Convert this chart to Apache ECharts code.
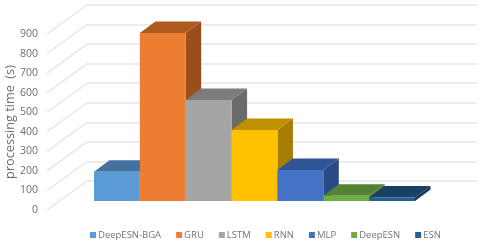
<!DOCTYPE html>
<html><head><meta charset="utf-8">
<style>html,body{margin:0;padding:0;background:#fff}#c{width:480px;height:245px}</style>
<script src="https://cdn.jsdelivr.net/npm/echarts@6/dist/echarts.min.js"></script>
</head><body><div id="c"></div>
<script>
const categories = ['DeepESN-BGA','GRU','LSTM','RNN','MLP','DeepESN','ESN'];
const values = [150, 859, 516, 363, 158, 27, 18];
const frontColors = ['#5b9bd5','#ed7d31','#a5a5a5','#ffc000','#4472c4','#70ad47','#255e91'];
const topColors = ['#43729f','#ae5a21','#7c7c7c','#bf9000','#2f5597','#548235','#1a4064'];
const sideColors = ['#3a6690','#9a4e1c','#6b6b6b','#a67d00','#2a4a86','#4a7330','#173a5b'];
const yTicks = [0,100,200,300,400,500,600,700,800,900];

const font = '"Open Sans", sans-serif';
const DX = 15.5, DY = -11.5, WX = 40, WY = -29;

const chart = echarts.init(document.getElementById('c'), null, {renderer:'canvas'});

function barRender(i){
  return function(params, api){
    const base = api.coord([api.value(0), 0]);
    const top = api.coord([api.value(0), api.value(1)]);
    const w = api.size([1,0])[0];
    const x0 = base[0]-w/2, x1 = base[0]+w/2, yb = base[1], yt = top[1];
    const poly = (pts, fill) => ({type:'polygon', shape:{points:pts}, style:{fill}});
    return {type:'group', children:[
      poly([[x1,yb],[x1+DX,yb+DY],[x1+DX,yt+DY],[x1,yt]], sideColors[i]),
      poly([[x0,yt],[x1,yt],[x1+DX,yt+DY],[x0+DX,yt+DY]], topColors[i]),
      poly([[x0,yb],[x1,yb],[x1,yt],[x0,yt]], frontColors[i])
    ]};
  };
}

const axisY = (g, extra) => Object.assign({type:'value', gridIndex:g, min:0, max:900, interval:100,
  axisLine:{show:false}, axisTick:{show:false}, axisLabel:{show:false}, splitLine:{show:false}}, extra);
const axisX = (g, extra) => Object.assign({gridIndex:g, axisLine:{show:false}, axisTick:{show:false},
  axisLabel:{show:false}, splitLine:{show:false}}, extra);

chart.setOption({
  animation:false,
  backgroundColor:'#fff',
  grid:[
    {left:47, top:34, width:400, height:176, outerBoundsMode:'none'},
    {left:87, top:5, width:390, height:176, outerBoundsMode:'none'},
    {left:94, top:25, width:321, height:176, outerBoundsMode:'none'}
  ],
  xAxis:[
    axisX(0,{type:'value', min:0, max:1}),
    axisX(1,{type:'value', min:0, max:1}),
    axisX(2,{type:'category', data:categories, boundaryGap:true})
  ],
  yAxis:[
    axisY(0,{axisLabel:{show:true, color:'#6e6e6e', fontSize:10.5, fontFamily:font, margin:9},
      name:'processing time  (s)', nameLocation:'middle', nameGap:30, nameRotate:90, nameMoveOverlap:false,
      nameTextStyle:{color:'#6e6e6e', fontSize:12.7, fontFamily:font}}),
    axisY(1,{splitLine:{show:true, lineStyle:{color:'#e6e6e6', width:1.6}}}),
    axisY(2,{})
  ],
  legend:{
    data:categories, left:90, top:230, padding:0, itemWidth:6, itemHeight:6, itemGap:15, icon:'rect',
    textStyle:{color:'#757575', fontSize:9.5, fontFamily:font, padding:[0,0,0,-3]}, selectedMode:false
  },
  series:[
    {type:'custom', silent:true, xAxisIndex:0, yAxisIndex:0, data:yTicks.map(v=>[0,v]),
     encode:{x:0,y:1},
     renderItem:(p,api)=>{const c=api.coord([0,api.value(1)]);
       return {type:'line', shape:{x1:c[0],y1:c[1],x2:c[0]+WX,y2:c[1]+WY},
         style:{stroke:'#e6e6e6', lineWidth:1.4, fill:null}};}},
    ...categories.map((name,i)=>({
      type:'custom', name, xAxisIndex:2, yAxisIndex:2, silent:true,
      itemStyle:{color:frontColors[i]},
      data:[[i, values[i]]], encode:{x:0,y:1}, z:2+i,
      renderItem:barRender(i)
    }))
  ]
});
</script></body></html>
